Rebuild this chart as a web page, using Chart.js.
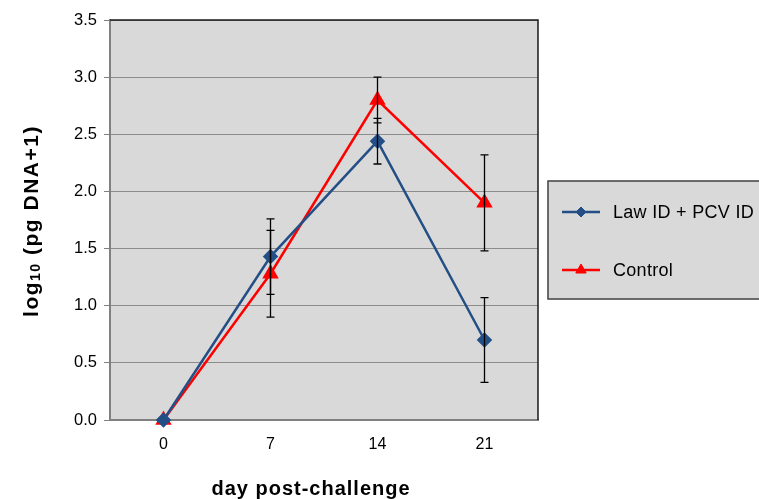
<!DOCTYPE html>
<html>
<head>
<meta charset="utf-8">
<script src="https://cdn.jsdelivr.net/npm/chart.js@4/dist/chart.umd.min.js"></script>
<style>
  html, body { margin: 0; padding: 0; background: #ffffff; }
  #wrap { width: 759px; height: 499px; position: relative; }
</style>
</head>
<body>
<div id="wrap"><canvas id="c" width="759" height="499"></canvas></div>
<script>
const categories = ['0', '7', '14', '21'];
const lawValues = [0, 1.43, 2.44, 0.70];
const lawErrors = [0, 0.33, 0.20, 0.37];
const controlValues = [0, 1.28, 2.80, 1.90];
const controlErrors = [0, 0.38, 0.20, 0.42];
const seriesNames = ['Law ID + PCV ID', 'Control'];
const yTicks = [0, 0.5, 1.0, 1.5, 2.0, 2.5, 3.0, 3.5];
const xTitle = 'day post-challenge';

const FONT = '"Liberation Sans", Arial, sans-serif';

const bgPlugin = {
  id: 'bg',
  beforeDraw(chart) {
    const { ctx, chartArea: a } = chart;
    ctx.save();
    ctx.fillStyle = '#d9d9d9';
    ctx.fillRect(a.left, a.top, a.right - a.left, a.bottom - a.top);
    ctx.restore();
  },
  beforeDatasetsDraw(chart) {
    const { ctx, chartArea: a } = chart;
    ctx.save();
    ctx.strokeStyle = '#1a1a1a';
    ctx.lineWidth = 1.5;
    ctx.beginPath();
    ctx.moveTo(a.left, a.top);
    ctx.lineTo(a.right, a.top);
    ctx.lineTo(a.right, a.bottom);
    ctx.stroke();
    ctx.restore();
  }
};

const errorPlugin = {
  id: 'errbars',
  afterDatasetsDraw(chart) {
    const { ctx } = chart;
    const ys = chart.scales.y;
    ctx.save();
    ctx.strokeStyle = '#000';
    ctx.lineWidth = 1.3;
    chart.data.datasets.forEach((ds, di) => {
      const meta = chart.getDatasetMeta(di);
      ds.errors.forEach((e, i) => {
        if (!e) return;
        const x = meta.data[i].x;
        const v = ds.data[i];
        const yTop = ys.getPixelForValue(v + e);
        const yBot = ys.getPixelForValue(v - e);
        ctx.beginPath();
        ctx.moveTo(x, yTop); ctx.lineTo(x, yBot);
        ctx.moveTo(x - 4, yTop); ctx.lineTo(x + 4, yTop);
        ctx.moveTo(x - 4, yBot); ctx.lineTo(x + 4, yBot);
        ctx.stroke();
      });
    });
    ctx.restore();
  }
};

const textPlugin = {
  id: 'texts',
  afterDraw(chart) {
    const { ctx } = chart;
    ctx.save();
    // y title
    ctx.translate(32, 221);
    ctx.rotate(-Math.PI / 2);
    ctx.fillStyle = '#000';
    ctx.textBaseline = 'middle';
    const big = 'bold 21px ' + FONT;
    const small = 'bold 14px ' + FONT;
    const parts = [['log', big, 0], ['10', small, 4], [' (pg DNA+1)', big, 0]];
    ctx.letterSpacing = '1.5px';
    let total = 0;
    parts.forEach(p => { ctx.font = p[1]; total += ctx.measureText(p[0]).width; });
    let x = -total / 2;
    parts.forEach(p => {
      ctx.font = p[1];
      ctx.fillText(p[0], x, p[2]);
      x += ctx.measureText(p[0]).width;
    });
    ctx.restore();

    // x title
    ctx.save();
    ctx.fillStyle = '#000';
    ctx.font = 'bold 20px ' + FONT;
    ctx.letterSpacing = '1px';
    ctx.textAlign = 'center';
    ctx.textBaseline = 'alphabetic';
    ctx.fillText(xTitle, 311, 495);
    ctx.restore();

    // legend
    ctx.save();
    const lx = 548, ly = 181, lw = 230, lh = 118;
    ctx.fillStyle = '#d9d9d9';
    ctx.fillRect(lx, ly, lw, lh);
    ctx.strokeStyle = '#404040';
    ctx.lineWidth = 1.5;
    ctx.strokeRect(lx, ly, lw, lh);
    const rows = [212, 270];
    chart.data.datasets.forEach((ds, i) => {
      const y = rows[i];
      ctx.strokeStyle = ds.borderColor;
      ctx.lineWidth = 2.5;
      ctx.beginPath();
      ctx.moveTo(562, y); ctx.lineTo(600, y);
      ctx.stroke();
      ctx.fillStyle = ds.borderColor;
      ctx.lineWidth = 1;
      Chart.helpers.drawPoint(ctx, {
        pointStyle: ds.pointStyle, radius: ds.pointRadius - 1, borderWidth: 1, rotation: 0
      }, 581, y);
      ctx.fillStyle = '#000';
      ctx.font = '18px ' + FONT;
      ctx.letterSpacing = '0.3px';
      ctx.textBaseline = 'middle';
      ctx.fillText(ds.label, 613, y + 1);
    });
    ctx.restore();
  }
};

new Chart(document.getElementById('c'), {
  type: 'line',
  data: {
    labels: categories,
    datasets: [
      {
        label: seriesNames[0],
        data: lawValues,
        errors: lawErrors,
        borderColor: '#234f86',
        backgroundColor: '#234f86',
        pointBackgroundColor: '#234f86',
        pointBorderColor: '#234f86',
        pointStyle: 'rectRot',
        pointRadius: 6,
        pointHoverRadius: 6,
        borderWidth: 2.5,
        tension: 0,
        clip: false
      },
      {
        label: seriesNames[1],
        data: controlValues,
        errors: controlErrors,
        borderColor: '#ff0000',
        backgroundColor: '#ff0000',
        pointBackgroundColor: '#ff0000',
        pointBorderColor: '#ff0000',
        pointStyle: 'triangle',
        pointRadius: 7,
        pointHoverRadius: 7,
        borderWidth: 2.5,
        tension: 0,
        clip: false
      }
    ]
  },
  options: {
    responsive: false,
    animation: false,
    devicePixelRatio: 1,
    layout: { padding: { top: 20, right: 221, left: 0, bottom: 0 } },
    plugins: {
      legend: { display: false },
      tooltip: { enabled: false },
      title: { display: false }
    },
    scales: {
      x: {
        type: 'category',
        offset: true,
        grid: { display: false, drawTicks: false },
        border: { color: '#808080', width: 2 },
        ticks: { color: '#000', font: { family: FONT, size: 16 }, padding: 15 },
        afterFit(scale) { scale.height = 79; }
      },
      y: {
        min: 0,
        max: 3.5,
        afterBuildTicks(scale) { scale.ticks = yTicks.map(v => ({ value: v })); },
        grid: { color: '#8c8c8c', lineWidth: 1, tickLength: 6, drawTicks: true, tickColor: '#808080' },
        border: { color: '#808080', width: 2 },
        ticks: {
          color: '#000',
          font: { family: FONT, size: 16.5 },
          padding: 7,
          callback: v => Number(v).toFixed(1)
        },
        afterFit(scale) { scale.width = 110; }
      }
    }
  },
  plugins: [bgPlugin, errorPlugin, textPlugin]
});
</script>
</body>
</html>
